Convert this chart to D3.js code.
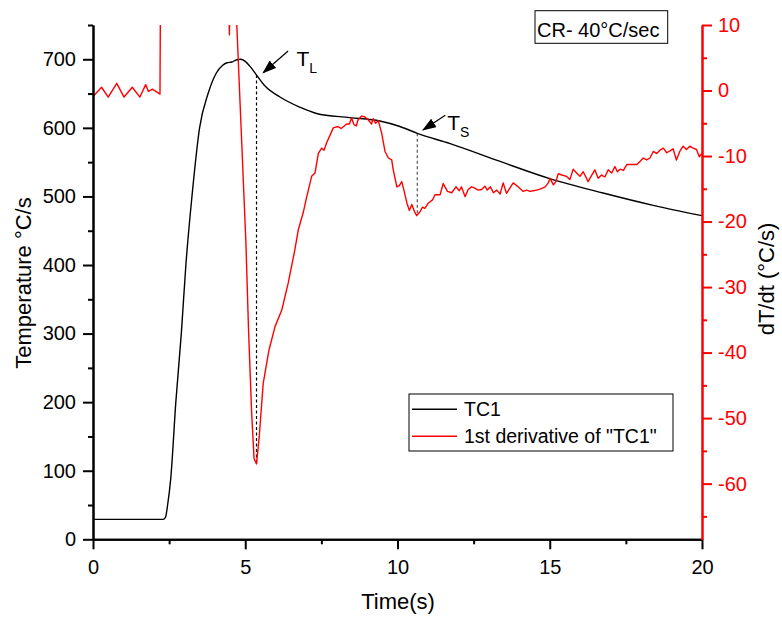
<!DOCTYPE html>
<html>
<head>
<meta charset="utf-8">
<script src="https://cdn.jsdelivr.net/npm/d3@7"></script>
<style>
  body { margin: 0; background: white; }
  svg { font-family: "Liberation Sans", Arial, sans-serif; }
</style>
</head>
<body>
<svg id="chart"></svg>
<script>
// TC1 temperature curve (s, °C)
var tc1Time = [0, 2.3, 2.38, 2.45, 2.55, 2.72, 2.9, 3.05, 3.25, 3.5, 3.78, 4.05, 4.25, 4.4, 4.56, 4.7, 4.85,
  5.0, 5.15, 5.37, 5.65, 6.14, 6.8, 7.34, 8.43, 9.42, 10.08, 10.65, 11.73, 13.37, 15.0, 16.75, 18.4, 20];
var tc1Temp = [29, 29, 32, 50, 87, 200, 300, 400, 500, 600, 650, 680, 691, 695, 696, 699, 700,
  697, 690, 677, 661, 645, 630, 621, 615, 610, 602, 592, 577, 551, 526, 505, 487, 472];

// first derivative of TC1 (s, °C/s)
var derivTime = [0, 0.28, 0.5, 0.78, 1.02, 1.29, 1.54, 1.73, 1.82, 1.95, 2.2, 2.23, 3.3, 4.46, 4.48, 4.5, 4.7,
  5.02, 5.11, 5.21, 5.29, 5.37, 5.46, 5.59, 5.78, 5.98, 6.2, 6.41, 6.63, 6.74, 6.9, 7.02, 7.18, 7.29, 7.4,
  7.51, 7.59, 7.67, 7.89, 8.05, 8.15, 8.33, 8.42, 8.49, 8.57, 8.65, 8.7, 8.82, 8.92, 9.04, 9.15, 9.2, 9.28,
  9.37, 9.48, 9.59, 9.7, 9.81, 9.86, 9.98, 10.06, 10.14, 10.22, 10.31, 10.39, 10.47, 10.56, 10.63, 10.74,
  10.82, 10.9, 11.01, 11.15, 11.23, 11.4, 11.5, 11.64, 11.78, 11.92, 12.03, 12.1, 12.22, 12.32, 12.43, 12.54,
  12.65, 12.76, 12.87, 12.95, 13.05, 13.15, 13.26, 13.37, 13.47, 13.58, 13.8, 13.96, 14.13, 14.24, 14.35,
  14.46, 14.57, 14.7, 14.85, 14.95, 15.01, 15.12, 15.2, 15.28, 15.4, 15.55, 15.66, 15.77, 15.88, 15.99,
  16.1, 16.26, 16.37, 16.48, 16.59, 16.7, 16.81, 16.92, 17.03, 17.14, 17.22, 17.31, 17.42, 17.53, 17.7,
  17.86, 17.97, 18.07, 18.18, 18.29, 18.4, 18.51, 18.62, 18.73, 18.84, 18.95, 19.05, 19.16, 19.27, 19.38,
  19.49, 19.6, 19.71, 19.82, 19.91, 20];
var derivRate = [-0.9, 0.5, -1, 1.1, -1, 0.5, -1, 0.9, -0.15, 0.2, -0.55, 30, 60, 14, 8.5, 14, 12.5,
  -23, -36.8, -49.2, -56.2, -57, -52.8, -44.7, -39.6, -36, -33.5, -29.4, -24.3, -21.3, -18.7, -16.2, -13.1, -12.6, -9.6,
  -8.8, -9.1, -8.0, -5.7, -5.5, -5.8, -5.1, -5.1, -4.2, -5.2, -5.4, -4.5, -3.9, -4.0, -4.5, -5.1, -4.3, -5.0,
  -4.6, -6.5, -9.3, -10.3, -10.6, -12.1, -14.7, -14.5, -13.9, -15.4, -17.2, -18.3, -17.4, -18.5, -19.1, -18.5,
  -17.8, -18.0, -17.2, -16.7, -15.9, -15.9, -14.2, -15.4, -15.6, -14.7, -15.3, -14.7, -16.2, -15.1, -14.7, -14.9,
  -15.2, -15.1, -14.6, -15.2, -14.7, -15.6, -15.2, -15.8, -14.1, -15.7, -14.1, -14.7, -15.4, -15.2, -15.4,
  -15.3, -15.2, -15.0, -14.7, -14.1, -13.4, -14.4, -13.9, -12.7, -12.9, -13.1, -13.6, -12.0, -12.6, -13.1,
  -12.4, -13.9, -13.0, -12.1, -13.4, -12.9, -13.2, -12.1, -12.6, -11.6, -12.4, -12.0, -12.2, -11.3, -11.3,
  -11.3, -10.8, -10.3, -10.6, -10.3, -9.3, -9.6, -9.1, -8.8, -9.5, -9.2, -8.9, -10.6, -9.3, -8.5,
  -9.0, -8.5, -8.8, -9.0, -10.1, -9.6];

// tick values
var xTicks = [0, 5, 10, 15, 20];
var xMinor = [2.5, 7.5, 12.5, 17.5];
var leftTicks = [0, 100, 200, 300, 400, 500, 600, 700];
var leftMinor = [50, 150, 250, 350, 450, 550, 650, 750];
var rightTicks = [10, 0, -10, -20, -30, -40, -50, -60];
var rightMinor = [5, -5, -15, -25, -35, -45, -55, -65];

// liquidus / solidus markers
var markTime = [5.37, 10.65];
var markTemp = [677, 592];
var markRate = [-57, -19.1];
var markSub = ["L", "S"];

var W = 782, H = 617;
var plot = {left: 93, right: 702, top: 25, bottom: 539.3};

var svg = d3.select("#chart").attr("width", W).attr("height", H);
svg.append("rect").attr("width", W).attr("height", H).attr("fill", "white");

var x = d3.scaleLinear().domain([0, 20]).range([plot.left, plot.right]);
var yL = d3.scaleLinear().domain([0, 750]).range([plot.bottom, plot.top]);
var yR = d3.scaleLinear().domain([-68.5, 10]).range([plot.bottom, plot.top]);

svg.append("clipPath").attr("id", "clip")
  .append("rect")
  .attr("x", plot.left).attr("y", plot.top)
  .attr("width", plot.right - plot.left).attr("height", plot.bottom - plot.top);

var tc1 = tc1Time.map((t, i) => ({t: t, v: tc1Temp[i]}));
var deriv = derivTime.map((t, i) => ({t: t, v: derivRate[i]}));

// dashed markers
var marks = markTime.map((t, i) => ({t: t, temp: markTemp[i], rate: markRate[i], sub: markSub[i]}));
svg.selectAll(".mark")
  .data(marks)
  .enter().append("line")
  .attr("x1", d => x(d.t)).attr("x2", d => x(d.t))
  .attr("y1", d => yL(d.temp)).attr("y2", d => yR(d.rate))
  .attr("stroke", (d, i) => i == 0 ? "#000" : "#555")
  .attr("stroke-width", 1.2)
  .attr("stroke-dasharray", "3,2.5");

var g = svg.append("g").attr("clip-path", "url(#clip)");

g.append("path")
  .datum(tc1)
  .attr("fill", "none")
  .attr("stroke", "#000")
  .attr("stroke-width", 1.4)
  .attr("d", d3.line().x(d => x(d.t)).y(d => yL(d.v)).curve(d3.curveMonotoneX));

g.append("path")
  .datum(deriv)
  .attr("fill", "none")
  .attr("stroke", "#ff0000")
  .attr("stroke-width", 1.4)
  .attr("stroke-linejoin", "round")
  .attr("d", d3.line().x(d => x(d.t)).y(d => yR(d.v)));

// axes
function styleAxis(sel, color) {
  sel.select(".domain").attr("stroke", color).attr("stroke-width", 2);
  sel.selectAll(".tick line").attr("stroke", color).attr("stroke-width", 2);
  sel.selectAll(".tick text").attr("fill", color).style("font-size", "20px")
    .style("font-family", "'Liberation Sans', Arial, sans-serif");
}

var gx = svg.append("g").attr("transform", "translate(0," + plot.bottom + ")")
  .call(d3.axisBottom(x).tickValues(xTicks).tickSize(10).tickSizeOuter(0).tickPadding(11).tickFormat(d3.format("d")));
styleAxis(gx, "#000");
var gxm = svg.append("g").attr("transform", "translate(0," + plot.bottom + ")")
  .call(d3.axisBottom(x).tickValues(xMinor).tickSize(5).tickSizeOuter(0).tickFormat(""));
styleAxis(gxm, "#000");

var gl = svg.append("g").attr("transform", "translate(" + plot.left + ",0)")
  .call(d3.axisLeft(yL).tickValues(leftTicks).tickSize(10).tickSizeOuter(0).tickPadding(7));
styleAxis(gl, "#000");
var glm = svg.append("g").attr("transform", "translate(" + plot.left + ",0)")
  .call(d3.axisLeft(yL).tickValues(leftMinor).tickSize(5).tickSizeOuter(0).tickFormat(""));
styleAxis(glm, "#000");

var gr = svg.append("g").attr("transform", "translate(" + plot.right + ",0)")
  .call(d3.axisRight(yR).tickValues(rightTicks).tickSize(10).tickSizeOuter(0).tickPadding(6)
    .tickFormat(d => d < 0 ? "-" + Math.abs(d) : d));
styleAxis(gr, "#ff0000");
var grm = svg.append("g").attr("transform", "translate(" + plot.right + ",0)")
  .call(d3.axisRight(yR).tickValues(rightMinor).tickSize(5).tickSizeOuter(0).tickFormat(""));
styleAxis(grm, "#ff0000");

// axis titles
svg.append("text")
  .attr("x", (plot.left + plot.right) / 2 + 0.5).attr("y", 609)
  .attr("text-anchor", "middle").style("font-size", "22px")
  .text("Time(s)");

svg.append("text")
  .attr("transform", "translate(31,283) rotate(-90)")
  .attr("text-anchor", "middle").style("font-size", "22px")
  .text("Temperature \u00B0C/s");

svg.append("text")
  .attr("transform", "translate(774,279) rotate(-90)")
  .attr("text-anchor", "middle").style("font-size", "22px")
  .text("dT/dt (\u00B0C/s)");

// arrows + labels
svg.append("defs").append("marker")
  .attr("id", "arrow").attr("viewBox", "0 0 14 10")
  .attr("refX", 13).attr("refY", 5)
  .attr("markerWidth", 14).attr("markerHeight", 10)
  .attr("markerUnits", "userSpaceOnUse")
  .attr("orient", "auto")
  .append("path").attr("d", "M0,0L14,5L0,10z").attr("fill", "#000");

var arrowTip = [[6.6, -2.3], [5.7, -3.3]];
var arrowTail = [[31.6, -24], [28, -18]];
var labelOff = [[40, -9], [30, -3.3]];

marks.forEach(function(d, i) {
  var px = x(d.t), py = yL(d.temp);
  svg.append("line")
    .attr("x1", px + arrowTail[i][0]).attr("y1", py + arrowTail[i][1])
    .attr("x2", px + arrowTip[i][0]).attr("y2", py + arrowTip[i][1])
    .attr("stroke", "#000").attr("stroke-width", 1.2)
    .attr("marker-end", "url(#arrow)");
  var t = svg.append("text")
    .attr("x", px + labelOff[i][0]).attr("y", py + labelOff[i][1])
    .style("font-size", "21px").text("T");
  t.append("tspan").attr("dy", 6.5).style("font-size", "14px").text(d.sub);
});

// cooling rate box
svg.append("rect")
  .attr("x", 535).attr("y", 10.7).attr("width", 132.7).attr("height", 32.6)
  .attr("fill", "white").attr("stroke", "#000").attr("stroke-width", 1);
svg.append("text")
  .attr("x", 537).attr("y", 36.5).style("font-size", "20px")
  .text("CR- 40\u00B0C/sec");

// legend
var legend = svg.append("g");
legend.append("rect")
  .attr("x", 409).attr("y", 394).attr("width", 264).attr("height", 57)
  .attr("fill", "white").attr("stroke", "#000").attr("stroke-width", 1);
var legItems = [{name: "TC1", color: "#000"}, {name: "1st derivative of \"TC1\"", color: "#ff0000"}];
legItems.forEach(function(d, i) {
  var yy = 409.3 + i * 27;
  legend.append("line")
    .attr("x1", 412).attr("x2", 457).attr("y1", yy).attr("y2", yy)
    .attr("stroke", d.color).attr("stroke-width", 1.4);
  legend.append("text")
    .attr("x", 464).attr("y", yy + 7)
    .style("font-size", "19.5px").text(d.name);
});
</script>
</body>
</html>
